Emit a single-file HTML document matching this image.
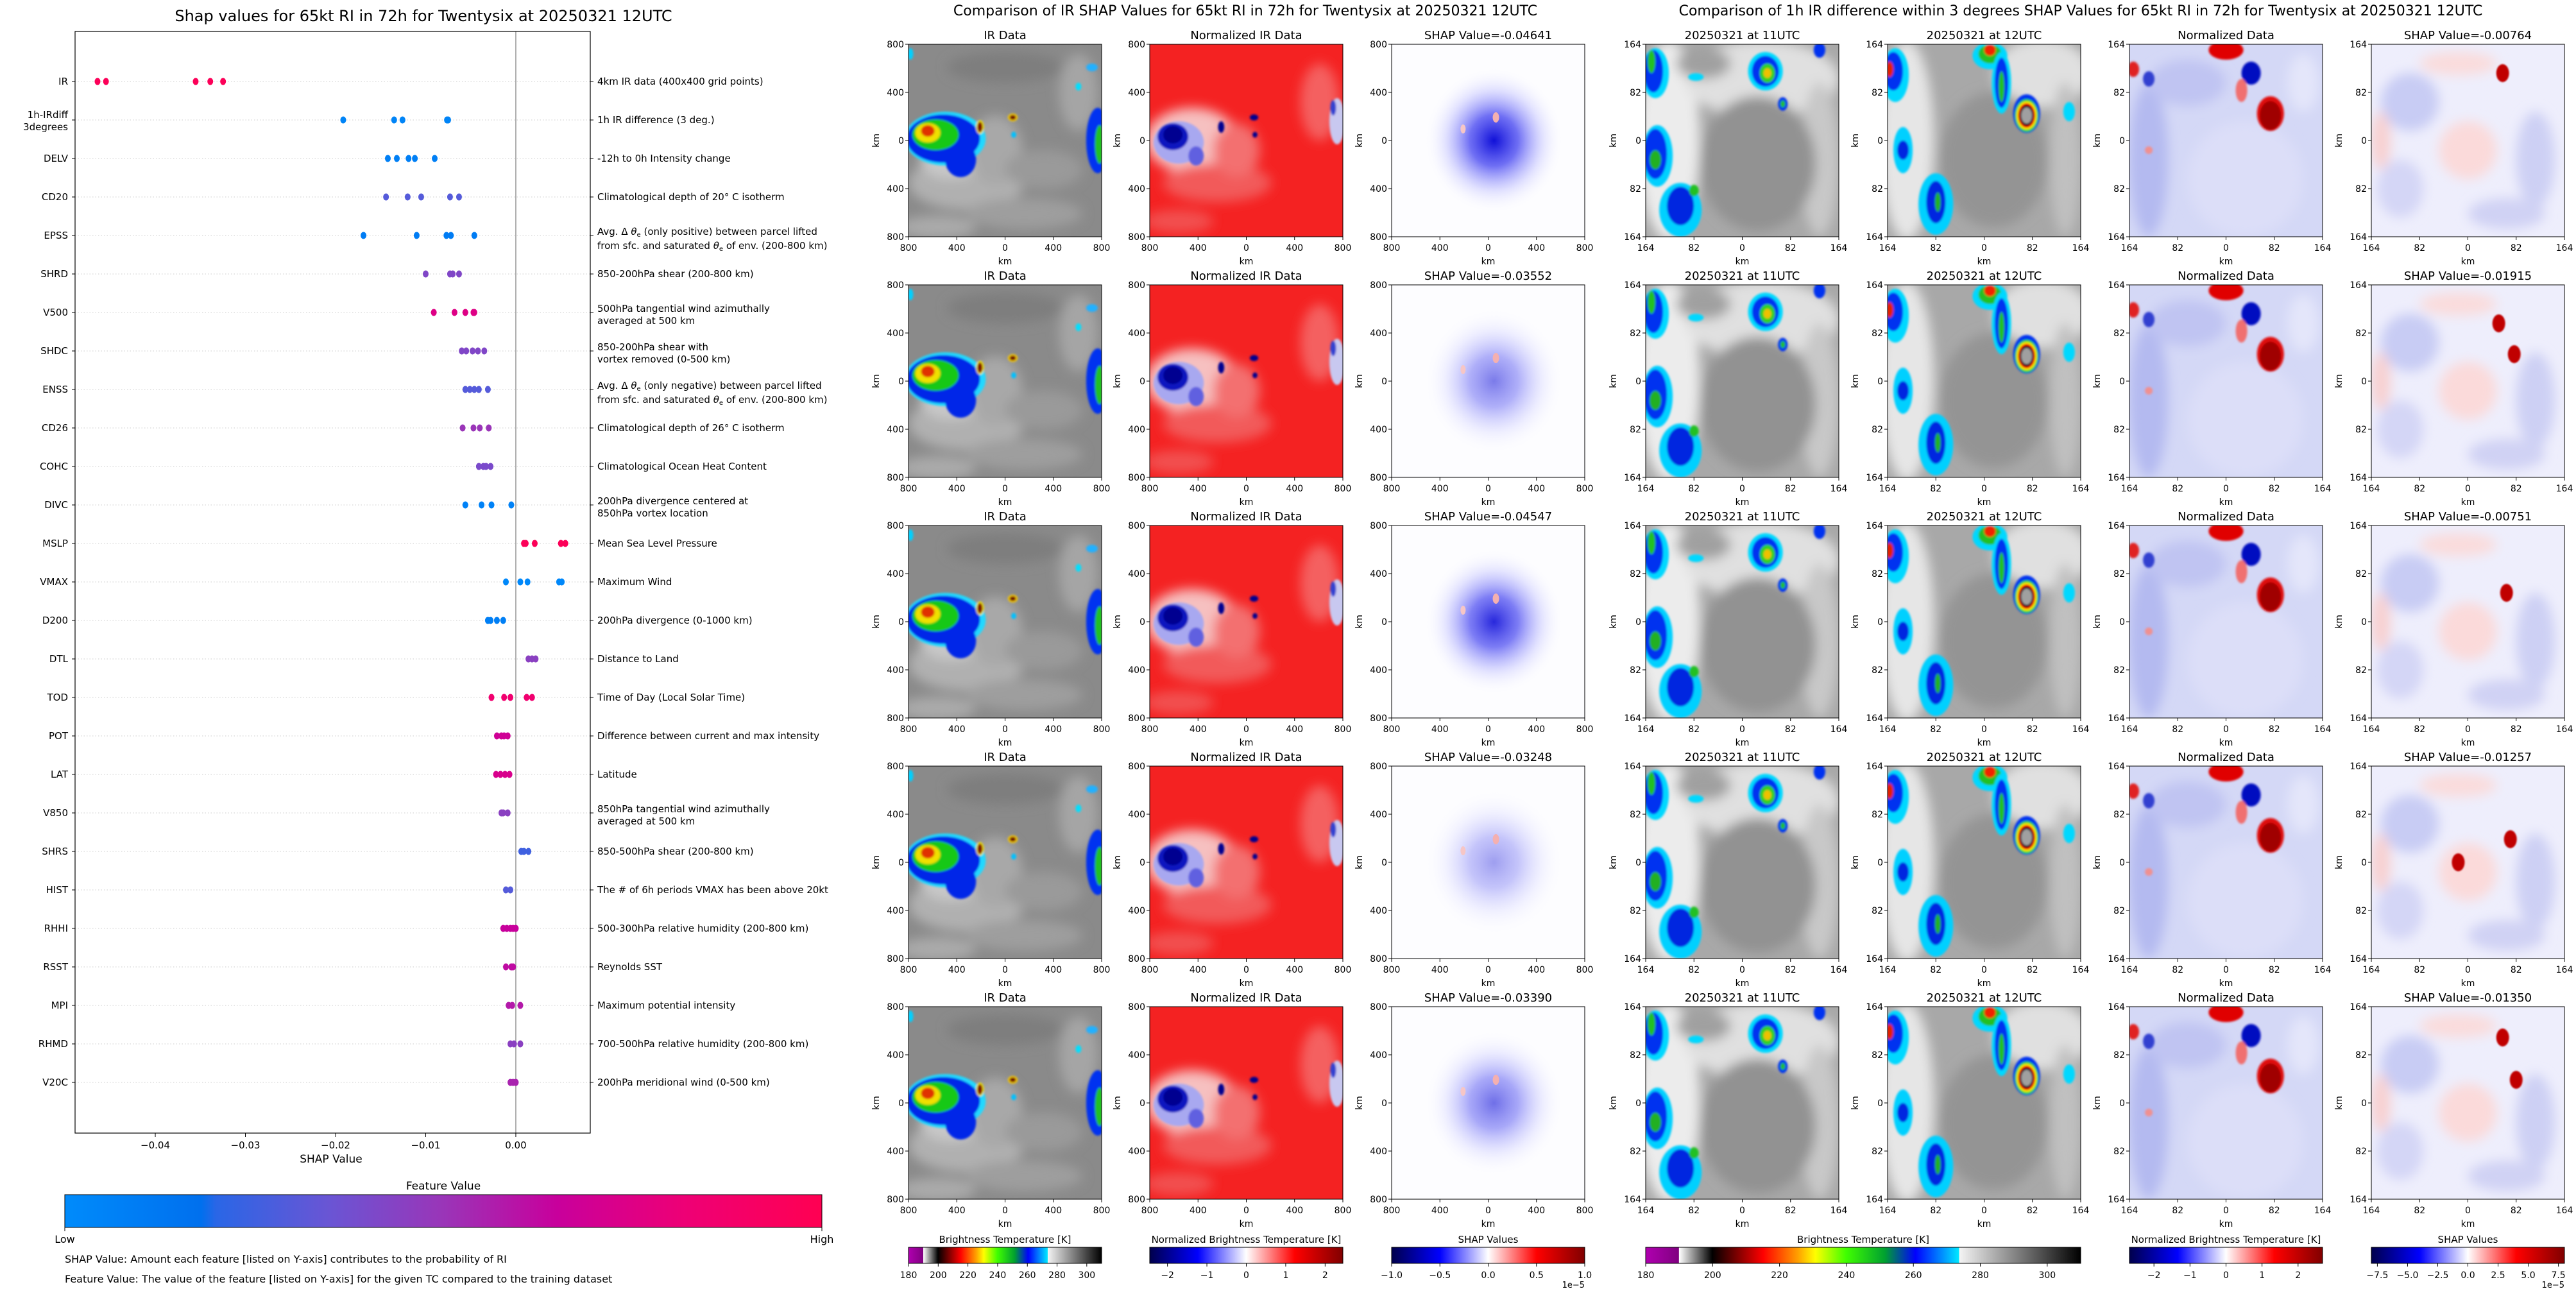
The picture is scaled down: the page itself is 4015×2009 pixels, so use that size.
<!DOCTYPE html>
<html><head><meta charset="utf-8">
<style>
html,body{margin:0;padding:0;background:#fff;}
svg{display:block;font-family:"DejaVu Sans","Liberation Sans",sans-serif;}
</style></head>
<body>
<svg id="fig" xmlns="http://www.w3.org/2000/svg" width="4015" height="2009" viewBox="0 0 4015 2009">
<defs>
<filter id="b05" x="-20%" y="-20%" width="140%" height="140%"><feGaussianBlur stdDeviation="0.5"/></filter>
<filter id="b1" x="-20%" y="-20%" width="140%" height="140%"><feGaussianBlur stdDeviation="1"/></filter>
<filter id="b3" x="-30%" y="-30%" width="160%" height="160%"><feGaussianBlur stdDeviation="3"/></filter>
<radialGradient id="gshap"><stop offset="0" stop-color="#1010d8" stop-opacity="1"/><stop offset="0.35" stop-color="#4040f0" stop-opacity="0.75"/><stop offset="0.7" stop-color="#9090ff" stop-opacity="0.25"/><stop offset="1" stop-color="#ffffff" stop-opacity="0"/></radialGradient>
<linearGradient id="gfeat" x1="0" x2="1" y1="0" y2="0">
<stop offset="0" stop-color="#008bfb"/><stop offset="0.18" stop-color="#0070ee"/><stop offset="0.2" stop-color="#2a66e6"/><stop offset="0.35" stop-color="#6a55d4"/><stop offset="0.5" stop-color="#9a35b8"/><stop offset="0.65" stop-color="#c8009c"/><stop offset="0.82" stop-color="#ee0075"/><stop offset="1" stop-color="#ff0052"/></linearGradient>
<linearGradient id="gir" x1="0" x2="1" y1="0" y2="0">
<stop offset="0" stop-color="#b000b0"/><stop offset="0.076" stop-color="#800080"/><stop offset="0.077" stop-color="#ffffff"/><stop offset="0.153" stop-color="#000000"/><stop offset="0.16" stop-color="#100000"/><stop offset="0.27" stop-color="#ff0000"/><stop offset="0.35" stop-color="#ffa000"/><stop offset="0.39" stop-color="#ffff00"/><stop offset="0.46" stop-color="#40ff00"/><stop offset="0.55" stop-color="#00a030"/><stop offset="0.62" stop-color="#0000ff"/><stop offset="0.72" stop-color="#00e8ff"/><stop offset="0.721" stop-color="#f4f4f4"/><stop offset="1" stop-color="#000000"/></linearGradient>
<linearGradient id="gseis" x1="0" x2="1" y1="0" y2="0">
<stop offset="0" stop-color="#00004c"/><stop offset="0.25" stop-color="#0000ff"/><stop offset="0.5" stop-color="#ffffff"/><stop offset="0.75" stop-color="#ff0000"/><stop offset="1" stop-color="#800000"/></linearGradient>

<symbol id="s-ir" viewBox="0 0 100 100" preserveAspectRatio="none">
<rect width="100" height="100" fill="#8a8a8a"/>
<g filter="url(#b3)">
<ellipse cx="30" cy="72" rx="30" ry="14" fill="#b0b0b0"/><ellipse cx="22" cy="60" rx="16" ry="10" fill="#c8c8c8"/>
<ellipse cx="45" cy="55" rx="14" ry="18" fill="#a8a8a8"/><ellipse cx="88" cy="25" rx="10" ry="20" fill="#a5a5a5"/>
<ellipse cx="60" cy="88" rx="30" ry="8" fill="#9e9e9e"/><ellipse cx="15" cy="95" rx="20" ry="6" fill="#aaaaaa"/>
<ellipse cx="50" cy="12" rx="30" ry="8" fill="#7e7e7e"/><ellipse cx="70" cy="65" rx="20" ry="10" fill="#9a9a9a"/>
</g>
<g filter="url(#b05)">
<ellipse cx="19" cy="49" rx="21" ry="14" fill="#20d8ff"/><ellipse cx="18" cy="49" rx="19" ry="12.5" fill="#0028e8"/>
<ellipse cx="27" cy="60" rx="8" ry="9" fill="#0028e8"/><ellipse cx="14" cy="47" rx="12" ry="8" fill="#18c818"/>
<ellipse cx="10" cy="46" rx="6.5" ry="5" fill="#f0e000"/><ellipse cx="10" cy="45" rx="3.5" ry="3" fill="#e03000"/>
<ellipse cx="98" cy="50" rx="6" ry="17" fill="#0030f0"/><ellipse cx="99" cy="52" rx="2.5" ry="10" fill="#20c020"/>
<ellipse cx="37" cy="43" rx="2" ry="3.5" fill="#fff000"/><ellipse cx="37" cy="43" rx="1.4" ry="2.8" fill="#800000"/>
<ellipse cx="54" cy="38" rx="2.5" ry="2" fill="#ffd000"/><ellipse cx="54" cy="38" rx="1.7" ry="1.3" fill="#700000"/>
<ellipse cx="54.5" cy="47" rx="1.3" ry="1.6" fill="#00c0ff"/><ellipse cx="1" cy="5" rx="1.5" ry="3" fill="#00d0ff"/>
<ellipse cx="95" cy="12" rx="3" ry="2" fill="#20b0ff"/><ellipse cx="88" cy="22" rx="1.5" ry="2" fill="#00e0ff"/>
</g>
</symbol>

<symbol id="s-nir" viewBox="0 0 100 100" preserveAspectRatio="none">
<rect width="100" height="100" fill="#f42222"/>
<g filter="url(#b3)">
<ellipse cx="22" cy="50" rx="24" ry="17" fill="#f6c0c0"/><ellipse cx="35" cy="72" rx="28" ry="10" fill="#f25a5a"/>
<ellipse cx="88" cy="30" rx="10" ry="20" fill="#f46060"/><ellipse cx="45" cy="55" rx="12" ry="14" fill="#f37070"/>
<ellipse cx="15" cy="92" rx="18" ry="6" fill="#f25050"/>
</g>
<g filter="url(#b05)">
<ellipse cx="15" cy="51" rx="13" ry="11" fill="#a8a8f0"/><ellipse cx="12" cy="48" rx="8" ry="7" fill="#1018c0"/>
<ellipse cx="12" cy="47" rx="5" ry="4.5" fill="#000090"/><ellipse cx="24" cy="58" rx="4" ry="5" fill="#6060e0"/>
<ellipse cx="37" cy="43" rx="1.6" ry="3" fill="#000090"/><ellipse cx="54" cy="38" rx="2.2" ry="1.6" fill="#000090"/>
<ellipse cx="54.5" cy="47" rx="1.3" ry="1.5" fill="#000090"/><ellipse cx="97" cy="40" rx="4" ry="12" fill="#c8c8f0"/>
<ellipse cx="95" cy="33" rx="1.5" ry="4" fill="#3040d0"/>
</g>
</symbol>

<symbol id="s-d11" viewBox="0 0 100 100" preserveAspectRatio="none">
<rect width="100" height="100" fill="#a8a8a8"/>
<g filter="url(#b3)">
<ellipse cx="12" cy="50" rx="16" ry="52" fill="#ececec"/><ellipse cx="60" cy="18" rx="40" ry="20" fill="#e0e0e0"/>
<ellipse cx="90" cy="60" rx="10" ry="40" fill="#c8c8c8"/><ellipse cx="58" cy="62" rx="30" ry="35" fill="#929292"/>
<ellipse cx="30" cy="10" rx="14" ry="8" fill="#a0a0a0"/>
</g>
<g filter="url(#b05)">
<ellipse cx="5" cy="15" rx="7" ry="13" fill="#00d8ff"/><ellipse cx="4" cy="14" rx="5" ry="11" fill="#0030f0"/><ellipse cx="3" cy="9" rx="2" ry="6" fill="#20c020"/>
<ellipse cx="6" cy="58" rx="8" ry="16" fill="#00d0ff"/><ellipse cx="5" cy="57" rx="6" ry="13" fill="#0030f0"/><ellipse cx="5" cy="60" rx="3" ry="5" fill="#20b020"/>
<ellipse cx="18" cy="86" rx="11" ry="14" fill="#00d0ff"/><ellipse cx="18" cy="84" rx="7" ry="10" fill="#0028e0"/><ellipse cx="25" cy="76" rx="2.5" ry="3" fill="#20c020"/>
<ellipse cx="62" cy="14" rx="9" ry="10" fill="#00d8ff"/><ellipse cx="62" cy="14" rx="7" ry="8" fill="#0030f0"/><ellipse cx="63" cy="15" rx="4" ry="5" fill="#30d020"/><ellipse cx="63" cy="15" rx="2" ry="2.5" fill="#f0c000"/>
<ellipse cx="71" cy="31" rx="2.5" ry="3.5" fill="#0030f0"/><ellipse cx="71" cy="31" rx="1.2" ry="1.8" fill="#20c020"/>
<ellipse cx="90" cy="3" rx="3" ry="4" fill="#0030f0"/><ellipse cx="26" cy="17" rx="4" ry="2" fill="#00d8ff"/>
</g>
</symbol>

<symbol id="s-d12" viewBox="0 0 100 100" preserveAspectRatio="none">
<rect width="100" height="100" fill="#a8a8a8"/>
<g filter="url(#b3)">
<ellipse cx="10" cy="50" rx="14" ry="52" fill="#e6e6e6"/><ellipse cx="80" cy="15" rx="25" ry="18" fill="#e0e0e0"/>
<ellipse cx="55" cy="60" rx="28" ry="35" fill="#949494"/><ellipse cx="92" cy="60" rx="8" ry="40" fill="#c0c0c0"/>
</g>
<g filter="url(#b05)">
<ellipse cx="4" cy="16" rx="7" ry="14" fill="#00d8ff"/><ellipse cx="3" cy="14" rx="5" ry="10" fill="#0030f0"/><ellipse cx="1" cy="13" rx="2" ry="4" fill="#e02000"/>
<ellipse cx="53" cy="6" rx="9" ry="7" fill="#00d8ff"/><ellipse cx="53" cy="5" rx="6" ry="5" fill="#20c020"/><ellipse cx="53" cy="3" rx="3" ry="3" fill="#f02000"/>
<ellipse cx="59" cy="20" rx="5" ry="16" fill="#00d8ff"/><ellipse cx="59" cy="20" rx="3.5" ry="13" fill="#0030f0"/><ellipse cx="59" cy="22" rx="1.5" ry="8" fill="#20c020"/>
<ellipse cx="72" cy="36" rx="7" ry="10" fill="#0030f0"/><ellipse cx="72" cy="37" rx="6" ry="8.5" fill="#20d020"/><ellipse cx="72" cy="37" rx="5.2" ry="7.3" fill="#ffff00"/><ellipse cx="72" cy="37" rx="4.5" ry="6.5" fill="#ff0000"/><ellipse cx="72" cy="37" rx="3.7" ry="5.5" fill="#000000"/><ellipse cx="72" cy="37" rx="2.8" ry="4.2" fill="#a0a0a0"/>
<ellipse cx="8" cy="55" rx="5" ry="12" fill="#00d0ff"/><ellipse cx="8" cy="55" rx="3" ry="5" fill="#0028e0"/>
<ellipse cx="25" cy="83" rx="9" ry="16" fill="#00d0ff"/><ellipse cx="25" cy="82" rx="5" ry="11" fill="#0028e0"/><ellipse cx="26" cy="82" rx="1.5" ry="5" fill="#20b020"/>
<ellipse cx="94" cy="35" rx="3" ry="5" fill="#00d8ff"/>
</g>
</symbol>

<symbol id="s-norm" viewBox="0 0 100 100" preserveAspectRatio="none">
<rect width="100" height="100" fill="#d4d8f6"/>
<g filter="url(#b3)">
<ellipse cx="10" cy="60" rx="10" ry="40" fill="#b4baf0"/><ellipse cx="60" cy="70" rx="30" ry="30" fill="#dcdef8"/>
<ellipse cx="30" cy="20" rx="20" ry="12" fill="#c0c4f2"/><ellipse cx="90" cy="20" rx="8" ry="15" fill="#e4e6fa"/>
</g>
<g filter="url(#b05)">
<ellipse cx="50" cy="3" rx="9" ry="5" fill="#e00000"/><ellipse cx="63" cy="15" rx="5" ry="6" fill="#0010c0"/>
<ellipse cx="58" cy="24" rx="3" ry="6" fill="#f07070"/><ellipse cx="2" cy="13" rx="3" ry="4" fill="#e02020"/>
<ellipse cx="73" cy="36" rx="7" ry="9" fill="#e01010"/><ellipse cx="73" cy="37" rx="5.5" ry="7.5" fill="#a00000"/>
<ellipse cx="10" cy="55" rx="2" ry="2" fill="#f09090"/><ellipse cx="10" cy="18" rx="3" ry="4" fill="#3040d0"/>
</g>
</symbol>

<symbol id="s-sd" viewBox="0 0 100 100" preserveAspectRatio="none">
<rect width="100" height="100" fill="#eeeefc"/>
<g filter="url(#b3)">
<ellipse cx="20" cy="30" rx="15" ry="15" fill="#c8ccf4"/><ellipse cx="50" cy="55" rx="15" ry="15" fill="#fbdada"/>
<ellipse cx="85" cy="60" rx="10" ry="25" fill="#cdd0f4"/><ellipse cx="15" cy="75" rx="12" ry="15" fill="#d4d6f6"/>
<ellipse cx="45" cy="10" rx="20" ry="6" fill="#fadcdc"/><ellipse cx="70" cy="88" rx="20" ry="8" fill="#d0d2f4"/>
<ellipse cx="5" cy="50" rx="5" ry="15" fill="#f8d0d0"/>
</g>
</symbol>
</defs>
</svg>

<script>
// ---------------- Beeswarm data ----------------
const features = ['IR','1h-IRdiff\n3degrees','DELV','CD20','EPSS','SHRD','V500','SHDC','ENSS','CD26','COHC','DIVC','MSLP','VMAX','D200','DTL','TOD','POT','LAT','V850','SHRS','HIST','RHHI','RSST','MPI','RHMD','V20C'];
const descriptions = [
 '4km IR data (400x400 grid points)','1h IR difference (3 deg.)','-12h to 0h Intensity change','Climatological depth of 20° C isotherm',
 'EPSPOS','850-200hPa shear (200-800 km)','500hPa tangential wind azimuthally\naveraged at 500 km','850-200hPa shear with\nvortex removed (0-500 km)',
 'EPSNEG','Climatological depth of 26° C isotherm','Climatological Ocean Heat Content','200hPa divergence centered at\n850hPa vortex location',
 'Mean Sea Level Pressure','Maximum Wind','200hPa divergence (0-1000 km)','Distance to Land','Time of Day (Local Solar Time)',
 'Difference between current and max intensity','Latitude','850hPa tangential wind azimuthally\naveraged at 500 km','850-500hPa shear (200-800 km)',
 'The # of 6h periods VMAX has been above 20kt','500-300hPa relative humidity (200-800 km)','Reynolds SST','Maximum potential intensity',
 '700-500hPa relative humidity (200-800 km)','200hPa meridional wind (0-500 km)'];
const shapValues = [
 [-0.04641,-0.04547,-0.03552,-0.03390,-0.03248],
 [-0.01915,-0.01350,-0.01257,-0.00764,-0.00751],
 [-0.0142,-0.0132,-0.0119,-0.0112,-0.0090],
 [-0.0144,-0.0120,-0.0105,-0.0073,-0.0063],
 [-0.0169,-0.0110,-0.0077,-0.0072,-0.0046],
 [-0.0100,-0.0073,-0.0070,-0.0063],
 [-0.0091,-0.0068,-0.0056,-0.0047,-0.0046],
 [-0.0060,-0.0055,-0.0048,-0.0042,-0.0035],
 [-0.0056,-0.0051,-0.0046,-0.0041,-0.0031],
 [-0.0059,-0.0047,-0.0040,-0.0030],
 [-0.0041,-0.0036,-0.0033,-0.0028],
 [-0.0056,-0.0038,-0.0027,-0.0005],
 [0.0009,0.0011,0.0021,0.0050,0.0055],
 [-0.0011,0.0005,0.0013,0.0048,0.0051],
 [-0.0031,-0.0028,-0.0021,-0.0014],
 [0.0014,0.0018,0.0022],
 [-0.0027,-0.0013,-0.0006,0.0012,0.0018],
 [-0.0021,-0.0016,-0.0013,-0.0009],
 [-0.0022,-0.0017,-0.0012,-0.0007],
 [-0.0016,-0.0014,-0.0009],
 [0.0006,0.0009,0.0014],
 [-0.0011,-0.0006],
 [-0.0014,-0.0010,-0.0006,-0.0003,0.0000],
 [-0.0011,-0.0005,-0.0003],
 [-0.0008,-0.0004,0.0005],
 [-0.0006,-0.0002,0.0005],
 [-0.0006,-0.0003,0.0000]];
const featureValues = [0.97,0.05,0.08,0.3,0.1,0.42,0.75,0.42,0.3,0.5,0.4,0.06,0.97,0.02,0.08,0.45,0.85,0.68,0.72,0.45,0.25,0.3,0.65,0.62,0.58,0.45,0.55];
const xTickValues = [-0.04,-0.03,-0.02,-0.01,0.00];
const xTickLabels = ['\u22120.04','\u22120.03','\u22120.02','\u22120.01','0.00'];

// IR panel data
const irShapTitles = ['-0.04641','-0.03552','-0.04547','-0.03248','-0.03390'];
const diffShapTitles = ['-0.00764','-0.01915','-0.00751','-0.01257','-0.01350'];

const NS = 'http://www.w3.org/2000/svg';
const svg = document.getElementById('fig');
function mk(tag, attrs, parent) {
  const e = document.createElementNS(NS, tag);
  for (const k in attrs) e.setAttribute(k, attrs[k]);
  (parent || svg).appendChild(e);
  return e;
}
function txt(str, attrs, parent) {
  const e = mk('text', attrs, parent);
  e.textContent = str;
  return e;
}

// ---------------- Beeswarm ----------------
const AX = {l:117, r:920, t:49, b:1766};
const xMin = -0.0489, xMax = 0.00826;
function xScale(v) { return AX.l + (v - xMin) / (xMax - xMin) * (AX.r - AX.l); }
function yScale(i) { return 127 + i * 60; }
const cmapStops = [[0,[0,139,251]],[0.18,[0,112,238]],[0.2,[42,102,230]],[0.35,[106,85,212]],[0.5,[154,53,184]],[0.65,[200,0,156]],[0.82,[238,0,117]],[1,[255,0,82]]];
function featColor(t) {
  for (let i = 1; i < cmapStops.length; i++) {
    if (t <= cmapStops[i][0]) {
      const a = cmapStops[i-1], b = cmapStops[i];
      const f = (t - a[0]) / (b[0] - a[0]);
      const c = a[1].map((v, j) => Math.round(v + (b[1][j] - v) * f));
      return 'rgb(' + c.join(',') + ')';
    }
  }
  return 'rgb(255,0,82)';
}

const g1 = mk('g', {});



const t1 = txt('Shap values for 65kt RI in 72h for Twentysix at 20250321 12UTC', {x:660, y:33, 'font-size':24, 'text-anchor':'middle'}, g1);



features.forEach((f, i) => {
  const y = yScale(i);
  const gl = mk('line', {x1:AX.l, x2:AX.r, y1:y, y2:y, stroke:'#cccccc', 'stroke-width':1, 'stroke-dasharray':'1.5,3'}, g1);
  
  
  const tk = mk('line', {x1:AX.l - 5, x2:AX.l, y1:y, y2:y, stroke:'#000'}, g1);
  
  
  const tk2 = mk('line', {x1:AX.r, x2:AX.r + 5, y1:y, y2:y, stroke:'#000'}, g1);
  
  
  const parts = f.split('\n');
  const lab = txt('', {x:106, y:parts.length > 1 ? y - 3 : y + 5, 'font-size':15, 'text-anchor':'end'}, g1);
  
  
  parts.forEach((p, k) => { const ts = mk('tspan', {x:106, dy: k ? 19 : 0}, lab); ts.textContent = p; });
  // description
  const d = descriptions[i];
  const dx = 931;
  let dt;
  if (d === 'EPSPOS' || d === 'EPSNEG') {
    dt = mk('text', {x:dx, y:y - 1, 'font-size':15}, g1);
    const word = d === 'EPSPOS' ? 'positive' : 'negative';
    const s1 = mk('tspan', {x:dx}, dt); s1.textContent = 'Avg. \u0394 ';
    const s2 = mk('tspan', {'font-style':'italic'}, dt); s2.textContent = '\u03b8';
    const s3 = mk('tspan', {'font-size':10, dy:3}, dt); s3.textContent = 'e';
    const s4 = mk('tspan', {dy:-3}, dt); s4.textContent = ' (only ' + word + ') between parcel lifted';
    const s5 = mk('tspan', {x:dx, dy:22}, dt); s5.textContent = 'from sfc. and saturated ';
    const s6 = mk('tspan', {'font-style':'italic'}, dt); s6.textContent = '\u03b8';
    const s7 = mk('tspan', {'font-size':10, dy:3}, dt); s7.textContent = 'e';
    const s8 = mk('tspan', {dy:-3}, dt); s8.textContent = ' of env. (200-800 km)';
  } else {
    const dp = d.split('\n');
    dt = txt('', {x:dx, y:dp.length > 1 ? y - 1 : y + 5, 'font-size':15}, g1);
    dp.forEach((p, k) => { const ts = mk('tspan', {x:dx, dy: k ? 19 : 0}, dt); ts.textContent = p; });
  }
  
  
});

const zl = mk('line', {x1:xScale(0), x2:xScale(0), y1:AX.t, y2:AX.b, stroke:'#999', 'stroke-width':1.5}, g1);



shapValues.forEach((vals, i) => {
  vals.forEach(v => {
    const c = mk('ellipse', {cx:xScale(v), cy:yScale(i), rx:4.5, ry:5.5, fill:featColor(featureValues[i])}, g1);
    
    
  });
});

const fr = mk('rect', {x:AX.l, y:AX.t, width:AX.r - AX.l, height:AX.b - AX.t, fill:'none', stroke:'#000', 'stroke-width':1.2}, g1);



xTickValues.forEach((v, i) => {
  const tl = mk('line', {x1:xScale(v), x2:xScale(v), y1:AX.b, y2:AX.b + 6, stroke:'#000'}, g1);
  
  
  const tt = txt(xTickLabels[i], {x:xScale(v), y:1790, 'font-size':15, 'text-anchor':'middle'}, g1);
  
  
});
const xl = txt('SHAP Value', {x:516, y:1812, 'font-size':17, 'text-anchor':'middle'}, g1);



const fvt = txt('Feature Value', {x:691, y:1854, 'font-size':17, 'text-anchor':'middle'}, g1);


const fcb = mk('rect', {x:101, y:1862, width:1180, height:51, fill:'url(#gfeat)', stroke:'#000', 'stroke-width':1}, g1);


['Low','High'].forEach((s, i) => {
  const x = i ? 1281 : 101;
  const tl = mk('line', {x1:x, x2:x, y1:1913, y2:1919, stroke:'#000'}, g1);
  
  
  const t = txt(s, {x:x, y:1937, 'font-size':16, 'text-anchor':'middle'}, g1);
  
  
});
const n1 = txt('SHAP Value: Amount each feature [listed on Y-axis] contributes to the probability of RI', {x:101, y:1968, 'font-size':16}, g1);


const n2 = txt('Feature Value: The value of the feature [listed on Y-axis] for the given TC compared to the training dataset', {x:101, y:1999, 'font-size':16}, g1);



// ---------------- Image panels ----------------
const rowTops = [69, 444, 819, 1194, 1569];
const PW = 301, PH = 300;
const fracs = [0, 0.25, 0.5, 0.75, 1];

function panel(x, y, title, draw, ticks, name) {
  const g = mk('g', {});
  
  
  draw(g, x, y);
  const b = mk('rect', {x:x, y:y, width:PW, height:PH, fill:'none', stroke:'#000', 'stroke-width':1}, g);
  
  
  const tt = txt(title, {x:x + PW / 2, y:y - 8, 'font-size':18, 'text-anchor':'middle'}, g);
  
  
  fracs.forEach((f, i) => {
    const yy = y + f * PH, xx = x + f * PW;
    const a = mk('line', {x1:x - 5, x2:x, y1:yy, y2:yy, stroke:'#000'}, g);
    
    
    const at = txt(ticks[i], {x:x - 7, y:yy + 5, 'font-size':14, 'text-anchor':'end'}, g);
    
    
    const c = mk('line', {x1:xx, x2:xx, y1:y + PH, y2:y + PH + 5, stroke:'#000'}, g);
    
    
    const ct = txt(ticks[i], {x:xx, y:y + PH + 22, 'font-size':14, 'text-anchor':'middle'}, g);
    
    
  });
  const kx = txt('km', {x:x + PW / 2, y:y + PH + 43, 'font-size':14, 'text-anchor':'middle'}, g);
  
  
  const ky = txt('km', {x:0, y:0, 'font-size':14, 'text-anchor':'middle', transform:'translate(' + (x - 46) + ',' + (y + PH / 2) + ') rotate(-90)'}, g);
  
  
}
function useSym(id) {
  return function (g, x, y) {
    const u = mk('use', {href:'#' + id, x:x, y:y, width:PW, height:PH}, g);
    
    
  };
}
const shapIntensity = [1, 0.55, 0.9, 0.4, 0.6];
function shapIR(r) {
  return function (g, x, y) {
    const bg = mk('rect', {x:x, y:y, width:PW, height:PH, fill:'#fdfdff'}, g);
    
    
    const e = mk('ellipse', {cx:x + PW * 0.53, cy:y + PH * 0.5, rx:PW * 0.36, ry:PH * 0.38, fill:'url(#gshap)', opacity:shapIntensity[r]}, g);
    
    
    const p1 = mk('ellipse', {cx:x + PW * 0.54, cy:y + PH * 0.38, rx:5, ry:8, fill:'#f4b0b0'}, g);
    
    
    const p2 = mk('ellipse', {cx:x + PW * 0.37, cy:y + PH * 0.44, rx:4, ry:7, fill:'#f6c6c6'}, g);
    
    
  };
}
const sdSpots = [[[0.68,0.15]],[[0.66,0.2],[0.74,0.36]],[[0.7,0.35]],[[0.72,0.38],[0.45,0.5]],[[0.68,0.16],[0.75,0.38]]];
function shapDiff(r) {
  return function (g, x, y) {
    const u = mk('use', {href:'#s-sd', x:x, y:y, width:PW, height:PH}, g);
    
    
    sdSpots[r].forEach(s => {
      const e = mk('ellipse', {cx:x + PW * s[0], cy:y + PH * s[1], rx:10, ry:14, fill:'#c00000', filter:'url(#b1)'}, g);
      
      
    });
  };
}

const t2 = txt('Comparison of IR SHAP Values for 65kt RI in 72h for Twentysix at 20250321 12UTC', {x:1941, y:24, 'font-size':22, 'text-anchor':'middle'});


const t3 = txt('Comparison of 1h IR difference within 3 degrees SHAP Values for 65kt RI in 72h for Twentysix at 20250321 12UTC', {x:3243, y:24, 'font-size':22, 'text-anchor':'middle'});



const kmIR = ['800','400','0','400','800'];
const kmD = ['164','82','0','82','164'];
rowTops.forEach((y, r) => {
  panel(1416, y, 'IR Data', useSym('s-ir'), kmIR, 'ir-data-panel');
  panel(1792, y, 'Normalized IR Data', useSym('s-nir'), kmIR, 'normalized-ir-panel');
  panel(2169, y, 'SHAP Value=' + irShapTitles[r], shapIR(r), kmIR, 'ir-shap-panel');
  panel(2565, y, '20250321 at 11UTC', useSym('s-d11'), kmD, 'ir-11utc-panel');
  panel(2942, y, '20250321 at 12UTC', useSym('s-d12'), kmD, 'ir-12utc-panel');
  panel(3319, y, 'Normalized Data', useSym('s-norm'), kmD, 'normalized-diff-panel');
  panel(3696, y, 'SHAP Value=' + diffShapTitles[r], shapDiff(r), kmD, 'diff-shap-panel');
});

// ---------------- Colorbars ----------------
function colorbar(x, w, title, grad, vmin, vmax, tickVals, tickLabs, offset, name) {
  const g = mk('g', {});
  
  
  const t = txt(title, {x:x + w / 2, y:1937, 'font-size':15, 'text-anchor':'middle'}, g);
  
  
  const r = mk('rect', {x:x, y:1944, width:w, height:25, fill:'url(#' + grad + ')', stroke:'#000', 'stroke-width':1}, g);
  
  
  tickVals.forEach((v, i) => {
    const xx = x + (v - vmin) / (vmax - vmin) * w;
    const l = mk('line', {x1:xx, x2:xx, y1:1969, y2:1974, stroke:'#000'}, g);
    
    
    const lt = txt(tickLabs[i], {x:xx, y:1992, 'font-size':14, 'text-anchor':'middle'}, g);
    
    
  });
  if (offset) {
    const o = txt(offset, {x:x + w, y:2007, 'font-size':13, 'text-anchor':'end'}, g);
    
    
  }
}
const irTicks = [180,200,220,240,260,280,300];
const irTickLabs = ['180','200','220','240','260','280','300'];
const normTicks = [-2,-1,0,1,2];
const normTickLabs = ['\u22122','\u22121','0','1','2'];
const shapTicks = [-1,-0.5,0,0.5,1];
const shapTickLabs = ['\u22121.0','\u22120.5','0.0','0.5','1.0'];
const shapDTicks = [-7.5,-5,-2.5,0,2.5,5,7.5];
const shapDTickLabs = ['\u22127.5','\u22125.0','\u22122.5','0.0','2.5','5.0','7.5'];
colorbar(1416, 301, 'Brightness Temperature [K]', 'gir', 180, 310, irTicks, irTickLabs, '', 'ir-colorbar');
colorbar(1792, 301, 'Normalized Brightness Temperature [K]', 'gseis', -2.45, 2.45, normTicks, normTickLabs, '', 'normalized-ir-colorbar');
colorbar(2169, 301, 'SHAP Values', 'gseis', -1, 1, shapTicks, shapTickLabs, '1e\u22125', 'ir-shap-colorbar');
colorbar(2565, 678, 'Brightness Temperature [K]', 'gir', 180, 310, irTicks, irTickLabs, '', 'diff-ir-colorbar');
colorbar(3319, 301, 'Normalized Brightness Temperature [K]', 'gseis', -2.68, 2.68, normTicks, normTickLabs, '', 'normalized-diff-colorbar');
colorbar(3696, 301, 'SHAP Values', 'gseis', -8.0, 8.0, shapDTicks, shapDTickLabs, '1e\u22125', 'diff-shap-colorbar');
</script>
</body></html>
